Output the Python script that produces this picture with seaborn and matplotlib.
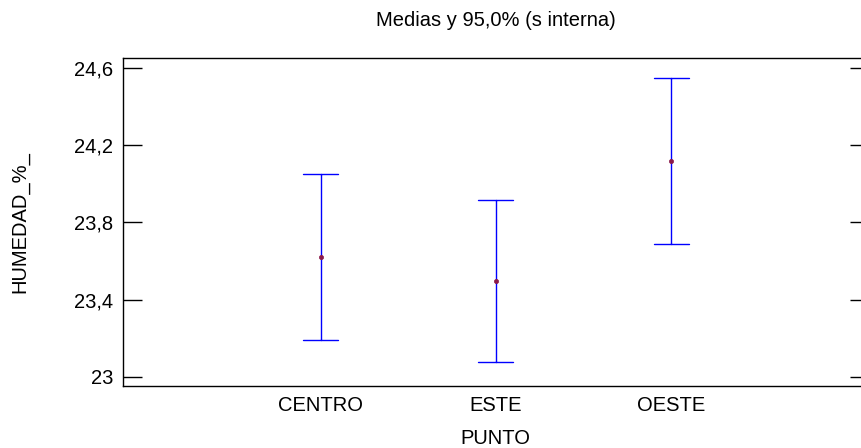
import matplotlib
matplotlib.use("Agg")
import matplotlib.pyplot as plt
import seaborn as sns
import pandas as pd

# Data
categories = ["CENTRO", "ESTE", "OESTE"]
means = [23.620, 23.497, 24.120]
lower = [23.191, 23.077, 23.689]
upper = [24.051, 23.916, 24.548]
ytick_values = [23.0, 23.4, 23.8, 24.2, 24.6]
ytick_labels = ["23", "23,4", "23,8", "24,2", "24,6"]

sns.set_theme(style="white")
plt.rcParams["font.family"] = ["Liberation Sans", "DejaVu Sans"]

# long-form table: lower / mean / upper for each group
rows = []
for c, lo, m, hi in zip(categories, lower, means, upper):
    for v in (lo, m, hi):
        rows.append({"PUNTO": c, "HUMEDAD": v})
df = pd.DataFrame(rows)
df_mean = pd.DataFrame({"PUNTO": categories, "HUMEDAD": means})

fig = plt.figure(figsize=(8.61, 4.48), dpi=100)
ax = fig.add_axes([122.7 / 861, 62 / 448, (869 - 122.7) / 861, 328 / 448])

sns.pointplot(data=df, x="PUNTO", y="HUMEDAD", order=categories,
              estimator="median", errorbar=("pi", 100), capsize=0.2,
              color="#0000ff", linestyle="none", marker="", err_kws={"linewidth": 1.0},
              ax=ax)
sns.scatterplot(data=df_mean, x="PUNTO", y="HUMEDAD", marker="o", s=9,
                color="#8b1a4a", edgecolor="#8b1a4a", linewidth=0.5, zorder=5, ax=ax)

fs = 14.5
ax.set_xlim(-1.13, 3.13)
ax.set_ylim(22.953, 24.652)
ax.set_yticks(ytick_values)
ax.set_yticklabels(ytick_labels)
ax.tick_params(axis="y", direction="in", length=14, width=1.0, labelsize=fs,
               right=True, left=True, pad=7, colors="black")
ax.tick_params(axis="x", length=0, labelsize=fs, pad=7, colors="black")
for s in ax.spines.values():
    s.set_color("black")
    s.set_linewidth(1.0)

ax.set_xlabel("PUNTO", fontsize=fs, labelpad=10, color="black")
ax.set_ylabel("HUMEDAD_%_", fontsize=fs, labelpad=32, color="black")
fig.text(496 / 861, 1 - 21 / 448, "Medias y 95,0% (s interna)", ha="center", va="center",
         fontsize=fs, color="black")

fig.savefig("out.png", dpi=100)
